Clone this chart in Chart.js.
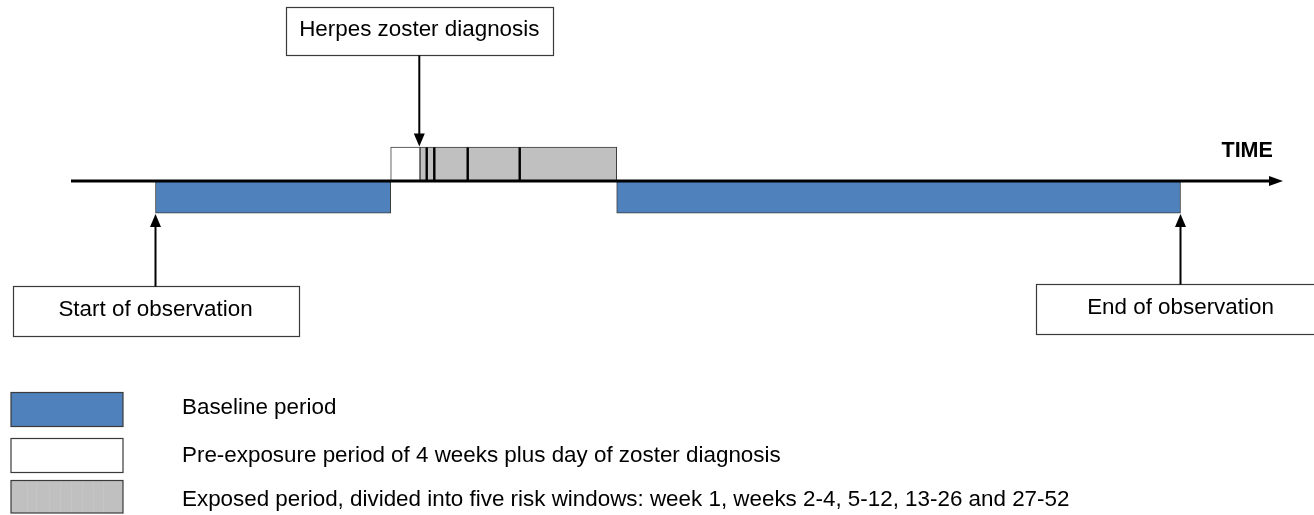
<!DOCTYPE html>
<html>
<head>
<meta charset="utf-8">
<script src="https://cdn.jsdelivr.net/npm/chart.js@4/dist/chart.umd.min.js"></script>
<style>
    body { margin: 0; background: #fff; }
    #wrap { width: 1314px; height: 515px; }
</style>
</head>
<body>
<div id="wrap"><canvas id="timeline" width="1314" height="515"></canvas></div>
<script>
// Timeline data (schematic time units along the axis)
const axisLabel = 'TIME';
const axisStart = 71;
const axisEnd = 1283;

const baselineSpans = [[155.5, 390.7], [616.7, 1180.5]];
const preExposureSpan = [390.7, 420];
const exposureBounds = [420, 426.7, 434.3, 467.7, 519.7, 616.7];

const eventLabels = ['Start of observation', 'Herpes zoster diagnosis', 'End of observation'];
const eventTimes = [155.5, 419.3, 1180.5];

const legendLabels = [
    'Baseline period',
    'Pre-exposure period of 4 weeks plus day of zoster diagnosis',
    'Exposed period, divided into five risk windows: week 1, weeks 2-4, 5-12, 13-26 and 27-52'
];

// Styles / layout
const BLUE = '#4F81BD';
const GRAY = '#C0C0C0';
const EDGE = '#3a3a3a';
const FONT = '"Liberation Sans", Arial, sans-serif';
const AXIS_Y = 181;
const BASE_ROW = { y: 197.2, h: 32 };
const EXP_ROW = { y: 164, h: 34 };
// event boxes: width, top, height, arrow tip, arrow direction
const eventBoxes = [
    { w: 286, top: 286.5, h: 50, tipY: 214, dir: 'up' },
    { w: 267, top: 7.5, h: 48, tipY: 146.5, dir: 'down' },
    { w: 290, top: 284.5, h: 50, tipY: 214, dir: 'up' }
];
// legend swatches: top, height, text baseline
const legendRows = [
    { top: 392.5, h: 34, base: 413.5 },
    { top: 438.5, h: 34, base: 461.5 },
    { top: 480.5, h: 32.5, base: 506 }
];

// Build the exposure windows from the boundaries
const exposureWindows = [];
for (let i = 0; i < exposureBounds.length - 1; i++) {
    exposureWindows.push([exposureBounds[i], exposureBounds[i + 1]]);
}

const timelinePlugin = {
    id: 'timelineDecor',
    afterDatasetsDraw(chart) {
        const ctx = chart.ctx;
        const xs = chart.scales.x;
        const ys = chart.scales.y;
        const px = v => xs.getPixelForValue(v);
        const py = v => ys.getPixelForValue(v);

        ctx.save();

        // Divider lines between risk windows
        ctx.strokeStyle = '#000';
        ctx.lineWidth = 2.4;
        exposureBounds.slice(1, -1).forEach(t => {
            ctx.beginPath();
            ctx.moveTo(px(t), py(EXP_ROW.y - EXP_ROW.h / 2) + 0.5);
            ctx.lineTo(px(t), py(AXIS_Y));
            ctx.stroke();
        });

        // Time axis with arrow
        const ay = py(AXIS_Y);
        ctx.lineWidth = 2.8;
        ctx.beginPath();
        ctx.moveTo(px(axisStart), ay);
        ctx.lineTo(px(axisEnd) - 10, ay);
        ctx.stroke();
        ctx.fillStyle = '#000';
        ctx.beginPath();
        ctx.moveTo(px(axisEnd), ay);
        ctx.lineTo(px(axisEnd) - 14, ay - 5);
        ctx.lineTo(px(axisEnd) - 14, ay + 5);
        ctx.closePath();
        ctx.fill();

        ctx.font = 'bold 21.5px ' + FONT;
        ctx.textAlign = 'left';
        ctx.textBaseline = 'alphabetic';
        ctx.fillText(axisLabel, 1221.5, 157.3);

        // Event boxes and arrows
        ctx.font = '22.4px ' + FONT;
        ctx.textAlign = 'center';
        eventTimes.forEach((t, i) => {
            const b = eventBoxes[i];
            const cx = px(t);
            const left = Math.round(cx - b.w / 2) + 0.5;
            ctx.fillStyle = '#fff';
            ctx.fillRect(left, b.top, b.w, b.h);
            ctx.strokeStyle = EDGE;
            ctx.lineWidth = 1.2;
            ctx.strokeRect(left, b.top, b.w, b.h);
            ctx.fillStyle = '#000';
            ctx.fillText(eventLabels[i], cx, b.top + b.h / 2 + 4);

            // arrow
            const startY = b.dir === 'up' ? b.top : b.top + b.h;
            const tip = b.tipY;
            const s = b.dir === 'up' ? 1 : -1;
            ctx.strokeStyle = '#000';
            ctx.lineWidth = 2;
            ctx.beginPath();
            ctx.moveTo(cx, startY);
            ctx.lineTo(cx, tip + s * 10);
            ctx.stroke();
            ctx.beginPath();
            ctx.moveTo(cx, tip);
            ctx.lineTo(cx - 5.5, tip + s * 13);
            ctx.lineTo(cx + 5.5, tip + s * 13);
            ctx.closePath();
            ctx.fill();
        });

        // Legend
        const swatches = [BLUE, '#fff', GRAY];
        ctx.font = '22.4px ' + FONT;
        ctx.textAlign = 'left';
        swatches.forEach((c, i) => {
            const r = legendRows[i];
            ctx.fillStyle = c;
            ctx.fillRect(11, r.top, 112, r.h);
            if (i === 2) {
                // faint texture of the grey swatch
                ctx.strokeStyle = 'rgba(255,255,255,0.08)';
                ctx.lineWidth = 1;
                [27, 36, 49, 60, 71, 82, 93, 103].forEach(sx => {
                    ctx.beginPath();
                    ctx.moveTo(sx + 0.5, r.top);
                    ctx.lineTo(sx + 0.5, r.top + r.h);
                    ctx.stroke();
                });
            }
            ctx.strokeStyle = EDGE;
            ctx.lineWidth = 1.2;
            ctx.strokeRect(11, r.top, 112, r.h);
            ctx.fillStyle = '#000';
            ctx.fillText(legendLabels[i], 182, r.base);
        });

        ctx.restore();
    }
};

const barDefaults = { grouped: false, borderSkipped: false, borderColor: EDGE, borderWidth: 1 };

new Chart(document.getElementById('timeline'), {
    type: 'bar',
    data: {
        datasets: [
            Object.assign({
                label: legendLabels[0],
                data: baselineSpans.map(s => ({ x: s, y: BASE_ROW.y })),
                backgroundColor: BLUE,
                barThickness: BASE_ROW.h
            }, barDefaults),
            Object.assign({
                label: legendLabels[1],
                data: [{ x: preExposureSpan, y: EXP_ROW.y }],
                backgroundColor: '#fff',
                barThickness: EXP_ROW.h
            }, barDefaults),
            Object.assign({
                label: legendLabels[2],
                data: exposureWindows.map(s => ({ x: s, y: EXP_ROW.y })),
                backgroundColor: GRAY,
                barThickness: EXP_ROW.h
            }, barDefaults)
        ]
    },
    options: {
        indexAxis: 'y',
        responsive: false,
        animation: false,
        layout: { padding: 0 },
        plugins: {
            legend: { display: false },
            tooltip: { enabled: false }
        },
        scales: {
            x: { type: 'linear', min: 0, max: 1314, offset: false, display: false },
            y: { type: 'linear', min: 0, max: 515, reverse: true, offset: false, display: false }
        }
    },
    plugins: [timelinePlugin]
});
</script>
</body>
</html>
